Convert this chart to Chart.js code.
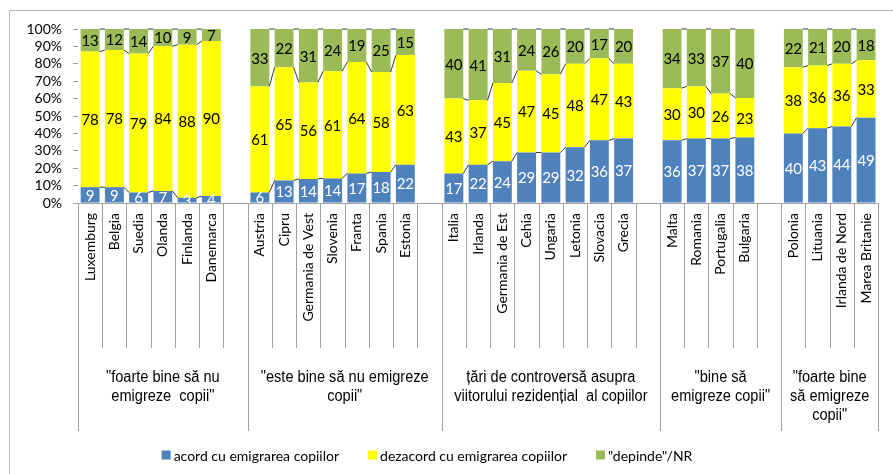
<!DOCTYPE html>
<html><head><meta charset="utf-8">
<script src="https://cdn.jsdelivr.net/npm/chart.js@4"></script>
<style>html,body{margin:0;padding:0;background:#fff;overflow:hidden}</style>
</head><body>
<canvas id="c" width="893" height="474" style="display:block;width:893px;height:474px"></canvas>
<script>
const categories = ['Luxemburg','Belgia','Suedia','Olanda','Finlanda','Danemarca','',
  'Austria','Cipru','Germania de Vest','Slovenia','Franta','Spania','Estonia','',
  'Italia','Irlanda','Germania de Est','Cehia','Ungaria','Letonia','Slovacia','Grecia','',
  'Malta','Romania','Portugalia','Bulgaria','',
  'Polonia','Lituania','Irlanda de Nord','Marea Britanie'];
const acord = [9,9,6,7,3,4,null, 6,13,14,14,17,18,22,null, 17,22,24,29,29,32,36,37,null, 36,37,37,38,null, 40,43,44,49];
const dezacord = [78,78,79,84,88,90,null, 61,65,56,61,64,58,63,null, 43,37,45,47,45,48,47,43,null, 30,30,26,23,null, 38,36,36,33];
const depinde = [13,12,14,10,9,7,null, 33,22,31,24,19,25,15,null, 40,41,31,24,26,20,17,20,null, 34,33,37,40,null, 22,21,20,18];
const seriesNames = ['acord cu emigrarea copiilor','dezacord cu emigrarea copiilor','"depinde"/NR'];
const seriesColors = ['#4f81bd','#ffff00','#9bbb59'];
const groupLabels = [
  ['"foarte bine să nu','emigreze  copii"'],
  ['"este bine să nu emigreze','copii"'],
  ['țări de controversă asupra','viitorului rezidențial  al copiilor'],
  ['"bine să','emigreze copii"'],
  ['"foarte bine','să emigreze','copii"']
];
const groupSizes = [7,8,9,5,4];

const rawSeries = [acord, dezacord, depinde];
const totals = categories.map((_, i) => rawSeries.reduce((s, a) => s + (a[i] || 0), 0));
const datasets = rawSeries.map((arr, d) => ({
  label: seriesNames[d],
  rawValues: arr,
  data: arr.map((v, i) => v == null ? null : v / totals[i] * 100),
  backgroundColor: seriesColors[d],
  borderWidth: 0,
  barPercentage: 0.78,
  categoryPercentage: 1
}));

const GRAY = '#a0a0a0';
const decor = {
  id: 'decor',
  afterDatasetsDraw(chart) {
    const ctx = chart.ctx, ca = chart.chartArea;
    ctx.save();
    ctx.strokeStyle = '#000'; ctx.lineWidth = 0.8;
    chart.data.datasets.forEach((ds, d) => {
      const meta = chart.getDatasetMeta(d);
      for (let i = 0; i < ds.rawValues.length - 1; i++) {
        if (ds.rawValues[i] == null || ds.rawValues[i + 1] == null) continue;
        const a = meta.data[i], b = meta.data[i + 1];
        ctx.beginPath();
        ctx.moveTo(a.x + a.width / 2, a.y);
        ctx.lineTo(b.x - b.width / 2, b.y);
        ctx.stroke();
      }
    });
    ctx.restore();
    ctx.save();
    ctx.beginPath(); ctx.rect(ca.left, ca.top, ca.right - ca.left, ca.bottom - ca.top); ctx.clip();
    ctx.font = '15px Lato';
    ctx.textAlign = 'center'; ctx.textBaseline = 'middle';
    chart.data.datasets.forEach((ds, d) => {
      const meta = chart.getDatasetMeta(d);
      ctx.fillStyle = d === 0 ? '#ffffff' : '#000000';
      ds.rawValues.forEach((v, i) => {
        if (v == null) return;
        const el = meta.data[i];
        ctx.fillText(String(v), el.x, (el.y + el.base) / 2 + 1);
      });
    });
    ctx.restore();
  },
  afterDraw(chart) {
    const ctx = chart.ctx, ca = chart.chartArea, xs = chart.scales.x;
    const step = xs.getPixelForValue(1) - xs.getPixelForValue(0);
    const x0 = xs.getPixelForValue(0) - step / 2;
    const n = categories.length;
    ctx.save();
    ctx.strokeStyle = GRAY; ctx.lineWidth = 1;
    const groupBounds = [0];
    groupSizes.forEach(s => groupBounds.push(groupBounds[groupBounds.length - 1] + s));
    for (let i = 0; i <= n; i++) {
      const x = Math.round(x0 + i * step) + 0.5;
      const long = groupBounds.includes(i);
      ctx.beginPath();
      ctx.moveTo(x, ca.bottom);
      ctx.lineTo(x, ca.bottom + (long ? 228 : 145));
      ctx.stroke();
    }
    // group labels (condensed sans)
    ctx.fillStyle = '#000';
    ctx.font = '16px "Liberation Sans", Arial, sans-serif';
    ctx.textAlign = 'center'; ctx.textBaseline = 'middle';
    const sx = 0.91;
    groupLabels.forEach((lines, g) => {
      const cx = x0 + (groupBounds[g] + groupBounds[g + 1]) / 2 * step;
      lines.forEach((t, k) => {
        ctx.save();
        ctx.translate(cx, ca.bottom + 175 + k * 19);
        ctx.scale(sx, 1);
        ctx.fillText(t, 0, 0);
        ctx.restore();
      });
    });
    // legend
    ctx.font = '14px Lato';
    ctx.textBaseline = 'middle'; ctx.textAlign = 'left';
    const gapBox = 3, box = 9, gapItem = 29;
    const widths = seriesNames.map(t => box + gapBox + ctx.measureText(t).width);
    const total = widths.reduce((a, b) => a + b, 0) + gapItem * (widths.length - 1);
    let lx = 427 - total / 2;
    const ly = 455;
    chart.data.datasets.forEach((ds, d) => {
      ctx.fillStyle = ds.backgroundColor;
      ctx.fillRect(lx, ly - 4.5, box, box);
      ctx.fillStyle = '#000';
      ctx.fillText(ds.label, lx + box + gapBox, ly + 1);
      lx += widths[d] + gapItem;
    });
    ctx.strokeStyle = '#b8b8b8';
    ctx.beginPath();
    ctx.moveTo(9.5, chart.height); ctx.lineTo(9.5, 10.5); ctx.lineTo(chart.width, 10.5);
    ctx.stroke();
    ctx.restore();
  }
};

new Chart(document.getElementById('c'), {
  type: 'bar',
  data: { labels: categories, datasets },
  options: {
    responsive: false,
    animation: false,
    layout: { padding: { top: 29, right: 8, bottom: 0, left: 0 } },
    plugins: { legend: { display: false }, tooltip: { enabled: false } },
    scales: {
      x: {
        stacked: true,
        grid: { display: false, drawTicks: false },
        border: { display: true, color: GRAY, width: 1 },
        ticks: { autoSkip: false, minRotation: 90, maxRotation: 90, padding: 10, color: '#000', font: { family: 'Lato', size: 14 } },
        afterFit(s) { s.height = 271; }
      },
      y: {
        stacked: true, min: 0, max: 100,
        grid: { display: true, drawOnChartArea: false, drawTicks: true, tickLength: 5, color: GRAY },
        border: { display: false },
        ticks: { stepSize: 10, autoSkip: false, padding: 11, color: '#000', font: { family: 'Lato', size: 14 }, callback: v => v + '%' },
        afterFit(s) { s.width = 78; }
      }
    }
  },
  plugins: [decor]
});
</script>
</body></html>
